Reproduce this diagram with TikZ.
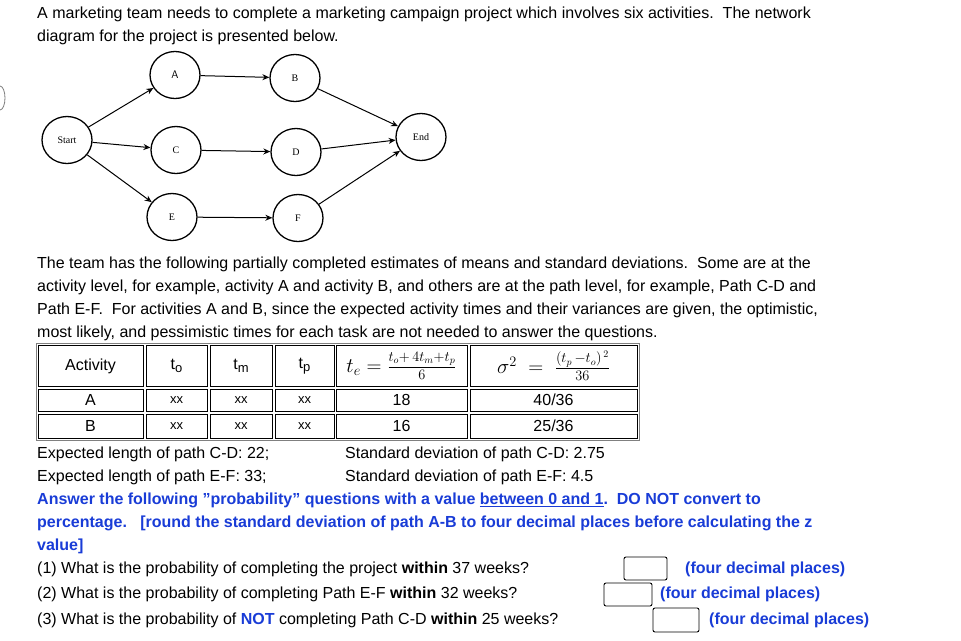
\documentclass[tikz,border=0pt]{standalone}
\usepackage{fontspec}
\setmainfont{Liberation Sans}
\newfontfamily\serifnode{Liberation Serif}
\usepackage{amsmath}
\usetikzlibrary{arrows.meta,shapes.geometric}
\definecolor{qblue}{RGB}{25,60,215}
\begin{document}
\begin{tikzpicture}[x=1pt,y=-1pt,
  ev/.style={draw,line width=1.3pt,ellipse,minimum width=50pt,minimum height=47pt,inner sep=0pt,font=\serifnode\fontsize{10}{10}\selectfont},
  arr/.style={-{Stealth[length=7pt,width=6pt,open]},line width=1pt},
  txt/.style={anchor=base west,inner sep=0pt,font=\fontsize{16}{20}\selectfont},
  btxt/.style={txt,text=qblue,font=\fontsize{16}{20}\selectfont\bfseries},
  cell/.style={draw,line width=0.8pt,inner sep=0pt},
  ansbox/.style={draw,line width=0.9pt,rounded corners=2pt}]
\useasboundingbox (0,0) rectangle (961,640);
\fill[white] (0,0) rectangle (961,640);
\draw[gray,line width=0.8pt] (0,110) arc[start angle=90,end angle=-90,x radius=5,y radius=12];
% text top
\node[txt] (t1) at (37,18) {A marketing team needs to complete a marketing campaign project which involves six activities.\ \ The network};
\node[txt] (t2) at (37,41) {diagram for the project is presented below.};
% network
\node[ev] (S) at (67,140) {Start};
\node[ev] (A) at (175,75) {\fontsize{11}{11}\selectfont\sffamily A};
\node[ev] (B) at (295,78) {B};
\node[ev] (C) at (176,150) {C};
\node[ev] (D) at (296,152) {D};
\node[ev] (E) at (172,217) {E};
\node[ev] (F) at (298,218) {F};
\node[ev] (End) at (421,137) {End};
\draw[arr] (S) -- (A);
\draw[arr] (S) -- (C);
\draw[arr] (S) -- (E);
\draw[arr] (A) -- (B);
\draw[arr] (C) -- (D);
\draw[arr] (E) -- (F);
\draw[arr] (B) -- (End);
\draw[arr] (D) -- (End);
\draw[arr] (F) -- (End);
% paragraph
\node[txt] (p1) at (37,268) {The team has the following partially completed estimates of means and standard deviations.\ \ Some are at the};
\node[txt] (p2) at (37,291) {activity level, for example, activity A and activity B, and others are at the path level, for example, Path C-D and};
\node[txt] (p3) at (37,314) {Path E-F.\ \ For activities A and B, since the expected activity times and their variances are given, the optimistic,};
\node[txt] (p4) at (37,337) {most likely, and pessimistic times for each task are not needed to answer the questions.};
% table
\draw[line width=0.8pt,gray] (36,343) rectangle (639,440);
\foreach \xa/\xb [count=\i] in {38/143,146/207,210/272,275/334,336/467,470/637}{
  \draw[cell] (\xa,345) rectangle (\xb,386);
  \draw[cell] (\xa,389) rectangle (\xb,411);
  \draw[cell] (\xa,414) rectangle (\xb,438);
}
\node (h1) at (90.5,366) {\fontsize{16}{16}\selectfont Activity};
\node (h2) at (176.5,366) {\fontsize{16}{16}\selectfont t\raisebox{-3pt}{\fontsize{13}{13}\selectfont o}};
\node (h3) at (241,366) {\fontsize{16}{16}\selectfont t\raisebox{-3pt}{\fontsize{13}{13}\selectfont m}};
\node (h4) at (304.5,366) {\fontsize{16}{16}\selectfont t\raisebox{-3pt}{\fontsize{13}{13}\selectfont p}};
\node (h5) at (401.5,366) {\fontsize{20}{20}\selectfont $t_e=\frac{t_o+\,4t_m+t_p}{6}$};
\node (h6) at (553.5,366) {\fontsize{20}{20}\selectfont $\sigma^2\;=\;\frac{(t_p\,-t_o)^{\,2}}{36}$};
\foreach \y/\a/\te/\s in {400/A/18/40\slash 36,426/B/16/25\slash 36}{
  \node[font=\fontsize{16}{16}\selectfont] at (90.5,\y) {\a};
  \node[font=\fontsize{13}{13}\selectfont] at (176.5,\y) {xx};
  \node[font=\fontsize{13}{13}\selectfont] at (241,\y) {xx};
  \node[font=\fontsize{13}{13}\selectfont] at (304.5,\y) {xx};
  \node[font=\fontsize{16}{16}\selectfont] at (401.5,\y) {\te};
  \node[font=\fontsize{16}{16}\selectfont] at (553.5,\y) {\s};
}
% expected lengths
\node[txt] (e1) at (37,458) {Expected length of path C-D: 22;};
\node[txt] (s1) at (345,458) {Standard deviation of path C-D: 2.75};
\node[txt] (e2) at (37,481) {Expected length of path E-F: 33;};
\node[txt] (s2) at (345,481) {Standard deviation of path E-F: 4.5};
% blue
\node[btxt] (b1) at (37,504) {Answer the following \symbol{34}probability\symbol{34} questions with a value \underline{between 0 and 1}.\ \ DO NOT convert to};
\node[btxt] (b2) at (37,527) {percentage.\ \ \ [round the standard deviation of path A-B to four decimal places before calculating the z};
\node[btxt] (b3) at (37,550) {value]};
% questions
\node[txt] (q1) at (37,573) {(1) What is the probability of completing the project \textbf{within} 37 weeks?};
\draw[ansbox] (624,557) rectangle (667,580);
\node[btxt] (a1) at (685,573) {(four decimal places)};
\node[txt] (q2) at (37,598) {(2) What is the probability of completing Path E-F \textbf{within} 32 weeks?};
\draw[ansbox] (604,583) rectangle (652,606);
\node[btxt] (a2) at (660,598) {(four decimal places)};
\node[txt] (q3) at (37,624) {(3) What is the probability of \textcolor{qblue}{\textbf{NOT}} completing Path C-D \textbf{within} 25 weeks?};
\draw[ansbox] (653,608) rectangle (699,632);
\node[btxt] (a3) at (709,624) {(four decimal places)};
\end{tikzpicture}
\end{document}
